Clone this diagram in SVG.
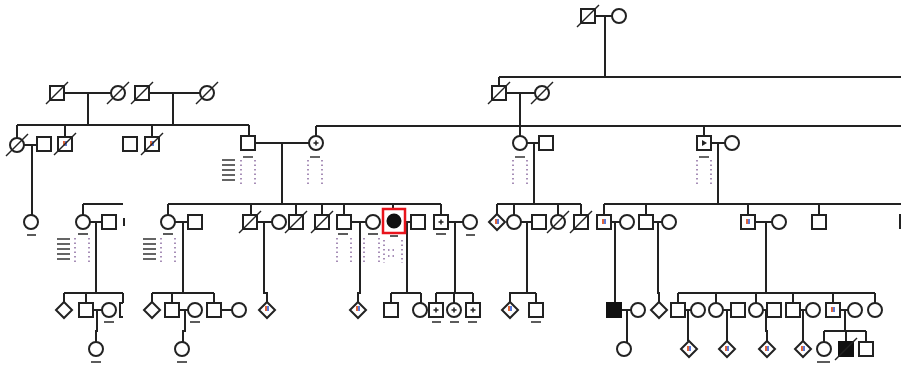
<svg xmlns="http://www.w3.org/2000/svg" width="901" height="366" viewBox="0 0 901 366">
<style>
.ln{stroke:#222;stroke-width:2;fill:none}
.s{fill:#fff;stroke:#222;stroke-width:2}
.f{fill:#111;stroke:#111;stroke-width:2}
.sl{stroke:#222;stroke-width:1.5}
.ul{stroke:#333;stroke-width:1.6}
.dt{stroke:#8a6aa0;stroke-width:1.5;stroke-dasharray:1.5 3;fill:none}
.dk{stroke:#333;stroke-width:1.5}
.mk1{fill:#e0663a}
.mk2{fill:#5a7ad8}
</style>
<defs>
<rect id="sq" x="-7" y="-7" width="14" height="14"/>
<circle id="ci" r="7"/>
<path id="di" d="M0,-8 L8,0 L0,8 L-8,0Z"/>
<line id="sla" x1="-11" y1="11" x2="11" y2="-11"/>
<g id="mk"><rect class="mk1" x="-2" y="-3" width="2" height="5"/><rect class="mk2" x="0" y="-3" width="2" height="5"/></g>
<g id="pl"><path d="M-2.5,0H2.5M0,-2.5V2.5" stroke="#222" stroke-width="1.5"/></g>
<g id="arch"><line class="dk" x1="-5" y1="0" x2="5" y2="0"/><line class="dt" x1="-7" y1="3" x2="-7" y2="28"/><line class="dt" x1="7" y1="3" x2="7" y2="28"/></g>
<g id="stack"><path class="dk" d="M0,0h13M0,5h13M0,10h13M0,15h13M0,20h13"/></g>
</defs>

<g id="connectors" class="ln">
<!-- gen I -->
<path d="M595,16H612M605,16V77M499,77H901M499,77V86"/>
<!-- gen II left -->
<path d="M64,93H111M88,93V125M149,93H200M173,93V125"/>
<!-- gen II right -->
<path d="M506,93H535M520,93V136"/>
<!-- gen III sibships -->
<path d="M17,125H249M17,125V138M65,125V137M152,125V137M249,125V137"/>
<path d="M316,126H901M316,126V136M704,126V136"/>
<path d="M24,145H37M32,145V215"/>
<path d="M255,143H309M282,143V204"/>
<path d="M527,143H539M534,143V204"/>
<path d="M711,143H725M718,143V204"/>
<!-- gen IV sibships -->
<path d="M83,204H123M83,204V215"/>
<path d="M168,204H441M168,204V215M251,204V215M296,204V215M322,204V215M344,204V215M393,204V209M441,204V215"/>
<path d="M497,204H581M497,204V214M514,204V215M558,204V215M581,204V215"/>
<path d="M604,204H901M604,204V215M646,204V215M748,204V215M819,204V215"/>
<!-- gen IV marriages -->
<path d="M90,222H102M96,222V293"/>
<path d="M175,222H188M183,222V293"/>
<path d="M257,222H272M264,222V293H267V302"/>
<path d="M351,222H366M360,222V293H358V302"/>
<path d="M400,222H411M407,222V293"/>
<path d="M448,222H463M455,222V293"/>
<path d="M521,222H532M527,222V293"/>
<path d="M611,222H620M615,222V303"/>
<path d="M653,222H662M658,222V293H659V302"/>
<path d="M755,222H772M766,222V293"/>
<!-- gen V sibships -->
<path d="M64,293H123M64,293V302M86,293V303M123,293V303"/>
<path d="M152,293H214M152,293V302M172,293V303M214,293V303"/>
<path d="M391,293H421M391,293V303M421,293V303"/>
<path d="M436,293H473M436,293V303M454,293V303M473,293V303"/>
<path d="M509,293H536M510,293V302M536,293V303"/>
<path d="M678,293H875M678,293V303M716,293V303M756,293V303M793,293V303M833,293V303M875,293V303"/>
<!-- gen V marriages -->
<path d="M93,310H102M97,310V331H96V342"/>
<path d="M179,310H188M185,310V331H183V342"/>
<path d="M220,310H232"/>
<path d="M621,310H631M627,310V342"/>
<path d="M685,310H691M688,310V341"/>
<path d="M723,310H731M727,310V341"/>
<path d="M763,310H767M766,310V331H767V341"/>
<path d="M799,310H806M803,310V341"/>
<path d="M840,310H848M845,310V331"/>
<path d="M824,331H866M824,331V342M846,331V342M866,331V342"/>
</g>

<!-- Gen I -->
<g id="n1"><use href="#sq" class="s" x="588" y="16"/><use href="#sla" class="sl" x="588" y="16"/></g>
<g id="n2"><use href="#ci" class="s" x="619" y="16"/></g>
<!-- Gen II -->
<g id="n3"><use href="#sq" class="s" x="57" y="93"/><use href="#sla" class="sl" x="57" y="93"/></g>
<g id="n4"><use href="#ci" class="s" x="118" y="93"/><use href="#sla" class="sl" x="118" y="93"/></g>
<g id="n5"><use href="#sq" class="s" x="142" y="93"/><use href="#sla" class="sl" x="142" y="93"/></g>
<g id="n6"><use href="#ci" class="s" x="207" y="93"/><use href="#sla" class="sl" x="207" y="93"/></g>
<g id="n7"><use href="#sq" class="s" x="499" y="93"/><use href="#sla" class="sl" x="499" y="93"/></g>
<g id="n8"><use href="#ci" class="s" x="542" y="93"/><use href="#sla" class="sl" x="542" y="93"/></g>
<!-- Gen III -->
<g id="n9"><use href="#ci" class="s" x="17" y="145"/><use href="#sla" class="sl" x="17" y="145"/></g>
<g id="n10"><use href="#sq" class="s" x="44" y="144"/></g>
<g id="n11"><use href="#sq" class="s" x="65" y="144"/><use href="#mk" x="65" y="144"/><use href="#sla" class="sl" x="65" y="144"/></g>
<g id="n12"><use href="#sq" class="s" x="130" y="144"/></g>
<g id="n13"><use href="#sq" class="s" x="152" y="144"/><use href="#mk" x="152" y="144"/><use href="#sla" class="sl" x="152" y="144"/></g>
<g id="n14"><use href="#sq" class="s" x="248" y="143"/><use href="#stack" x="222" y="160"/><use href="#arch" x="248" y="157"/></g>
<g id="n15"><use href="#ci" class="s" x="316" y="143"/><use href="#pl" x="316" y="143"/><use href="#arch" x="315" y="157"/></g>
<g id="n16"><use href="#ci" class="s" x="520" y="143"/><use href="#arch" x="520" y="157"/></g>
<g id="n17"><use href="#sq" class="s" x="546" y="143"/></g>
<g id="n18"><use href="#sq" class="s" x="704" y="143"/><path d="M702,140L707,143L702,146Z" fill="#222"/><use href="#arch" x="704" y="157"/></g>
<g id="n19"><use href="#ci" class="s" x="732" y="143"/></g>
<!-- Gen IV -->
<g id="n20"><use href="#ci" class="s" x="31" y="222"/><line class="ul" x1="27" y1="235" x2="36" y2="235"/></g>
<g id="n21"><use href="#ci" class="s" x="83" y="222"/><line class="ul" x1="78" y1="234" x2="88" y2="234"/><use href="#stack" x="57" y="239"/><line class="dt" x1="75" y1="238" x2="75" y2="263"/><line class="dt" x1="89" y1="238" x2="89" y2="263"/></g>
<g id="n22"><use href="#sq" class="s" x="109" y="222"/></g>
<g id="n23"><line class="ln" x1="124" y1="218" x2="124" y2="226"/></g>
<g id="n24"><use href="#ci" class="s" x="168" y="222"/><line class="ul" x1="163" y1="234" x2="173" y2="234"/><use href="#stack" x="143" y="239"/><line class="dt" x1="161" y1="238" x2="161" y2="263"/><line class="dt" x1="175" y1="238" x2="175" y2="263"/></g>
<g id="n25"><use href="#sq" class="s" x="195" y="222"/></g>
<g id="n26"><use href="#sq" class="s" x="250" y="222"/><use href="#sla" class="sl" x="250" y="222"/></g>
<g id="n27"><use href="#ci" class="s" x="279" y="222"/></g>
<g id="n28"><use href="#sq" class="s" x="296" y="222"/><use href="#sla" class="sl" x="296" y="222"/></g>
<g id="n29"><use href="#sq" class="s" x="322" y="222"/><use href="#sla" class="sl" x="322" y="222"/></g>
<g id="n30"><use href="#sq" class="s" x="344" y="222"/><line class="ul" x1="338" y1="234" x2="348" y2="234"/><line class="dt" x1="337" y1="238" x2="337" y2="263"/><line class="dt" x1="351" y1="238" x2="351" y2="263"/></g>
<g id="n31"><use href="#ci" class="s" x="373" y="222"/><line class="ul" x1="368" y1="234" x2="378" y2="234"/><line class="dt" x1="364" y1="238" x2="364" y2="263"/><line class="dt" x1="379" y1="238" x2="379" y2="263"/></g>
<g id="n32"><rect x="383" y="209" width="22" height="24" fill="#fff" stroke="#e8141c" stroke-width="2.5"/><circle cx="394" cy="221" r="6.5" class="f"/><line class="ul" x1="390" y1="236" x2="398" y2="236"/><line class="dt" x1="384" y1="240" x2="384" y2="263"/><line class="dt" x1="402" y1="240" x2="402" y2="263"/><path class="dt" d="M388,250h6M388,256h6"/></g>
<g id="n33"><use href="#sq" class="s" x="418" y="222"/></g>
<g id="n34"><use href="#sq" class="s" x="441" y="222"/><use href="#pl" x="441" y="222"/><line class="ul" x1="436" y1="234" x2="446" y2="234"/></g>
<g id="n35"><use href="#ci" class="s" x="470" y="222"/><line class="ul" x1="466" y1="235" x2="475" y2="235"/></g>
<g id="n36"><use href="#di" class="s" x="497" y="222"/><use href="#mk" x="497" y="222"/></g>
<g id="n37"><use href="#ci" class="s" x="514" y="222"/></g>
<g id="n38"><use href="#sq" class="s" x="539" y="222"/></g>
<g id="n39"><use href="#ci" class="s" x="558" y="222"/><use href="#sla" class="sl" x="558" y="222"/></g>
<g id="n40"><use href="#sq" class="s" x="581" y="222"/><use href="#sla" class="sl" x="581" y="222"/></g>
<g id="n41"><use href="#sq" class="s" x="604" y="222"/><use href="#mk" x="604" y="222"/></g>
<g id="n42"><use href="#ci" class="s" x="627" y="222"/></g>
<g id="n43"><use href="#sq" class="s" x="646" y="222"/></g>
<g id="n44"><use href="#ci" class="s" x="669" y="222"/></g>
<g id="n45"><use href="#sq" class="s" x="748" y="222"/><use href="#mk" x="748" y="222"/></g>
<g id="n46"><use href="#ci" class="s" x="779" y="222"/></g>
<g id="n47"><use href="#sq" class="s" x="819" y="222"/></g>
<g id="n48"><line class="ln" x1="900" y1="214" x2="900" y2="229"/></g>
<!-- Gen V -->
<g id="n49"><use href="#di" class="s" x="64" y="310"/></g>
<g id="n50"><use href="#sq" class="s" x="86" y="310"/></g>
<g id="n51"><use href="#ci" class="s" x="109" y="310"/><line class="ul" x1="104" y1="322" x2="114" y2="322"/></g>
<g id="n52"><path class="ln" d="M123,303H120V317H123"/></g>
<g id="n53"><use href="#di" class="s" x="152" y="310"/></g>
<g id="n54"><use href="#sq" class="s" x="172" y="310"/></g>
<g id="n55"><use href="#ci" class="s" x="195" y="310"/><line class="ul" x1="190" y1="322" x2="200" y2="322"/></g>
<g id="n56"><use href="#sq" class="s" x="214" y="310"/></g>
<g id="n57"><use href="#ci" class="s" x="239" y="310"/></g>
<g id="n58"><use href="#di" class="s" x="267" y="310"/><use href="#mk" x="267" y="309"/></g>
<g id="n59"><use href="#di" class="s" x="358" y="310"/><use href="#mk" x="358" y="309"/></g>
<g id="n60"><use href="#sq" class="s" x="391" y="310"/></g>
<g id="n61"><use href="#ci" class="s" x="420" y="310"/></g>
<g id="n62"><use href="#sq" class="s" x="436" y="310"/><use href="#pl" x="436" y="310"/><line class="ul" x1="432" y1="322" x2="441" y2="322"/></g>
<g id="n63"><use href="#ci" class="s" x="454" y="310"/><use href="#pl" x="454" y="310"/><line class="ul" x1="450" y1="322" x2="459" y2="322"/></g>
<g id="n64"><use href="#sq" class="s" x="473" y="310"/><use href="#pl" x="473" y="310"/><line class="ul" x1="468" y1="322" x2="477" y2="322"/></g>
<g id="n65"><use href="#di" class="s" x="510" y="310"/><use href="#mk" x="510" y="309"/></g>
<g id="n66"><use href="#sq" class="s" x="536" y="310"/><line class="ul" x1="531" y1="322" x2="541" y2="322"/></g>
<g id="n67"><use href="#sq" class="f" x="614" y="310"/></g>
<g id="n68"><use href="#ci" class="s" x="638" y="310"/></g>
<g id="n69"><use href="#di" class="s" x="659" y="310"/></g>
<g id="n70"><use href="#sq" class="s" x="678" y="310"/></g>
<g id="n71"><use href="#ci" class="s" x="698" y="310"/></g>
<g id="n72"><use href="#ci" class="s" x="716" y="310"/></g>
<g id="n73"><use href="#sq" class="s" x="738" y="310"/></g>
<g id="n74"><use href="#ci" class="s" x="756" y="310"/></g>
<g id="n75"><use href="#sq" class="s" x="774" y="310"/></g>
<g id="n76"><use href="#sq" class="s" x="793" y="310"/></g>
<g id="n77"><use href="#ci" class="s" x="813" y="310"/></g>
<g id="n78"><use href="#sq" class="s" x="833" y="310"/><use href="#mk" x="833" y="310"/></g>
<g id="n79"><use href="#ci" class="s" x="855" y="310"/></g>
<g id="n80"><use href="#ci" class="s" x="875" y="310"/></g>
<!-- Gen VI -->
<g id="n81"><use href="#ci" class="s" x="96" y="349"/><line class="ul" x1="91" y1="362" x2="101" y2="362"/></g>
<g id="n82"><use href="#ci" class="s" x="182" y="349"/><line class="ul" x1="177" y1="362" x2="187" y2="362"/></g>
<g id="n83"><use href="#ci" class="s" x="624" y="349"/></g>
<g id="n84"><use href="#di" class="s" x="689" y="349"/><use href="#mk" x="689" y="349"/></g>
<g id="n85"><use href="#di" class="s" x="727" y="349"/><use href="#mk" x="727" y="349"/></g>
<g id="n86"><use href="#di" class="s" x="767" y="349"/><use href="#mk" x="767" y="349"/></g>
<g id="n87"><use href="#di" class="s" x="803" y="349"/><use href="#mk" x="803" y="349"/></g>
<g id="n88"><use href="#ci" class="s" x="824" y="349"/><line class="ul" x1="817" y1="362" x2="830" y2="362"/></g>
<g id="n89"><use href="#sq" class="f" x="846" y="349"/><use href="#sla" class="sl" x="846" y="349"/></g>
<g id="n90"><use href="#sq" class="s" x="866" y="349"/></g>
</svg>
